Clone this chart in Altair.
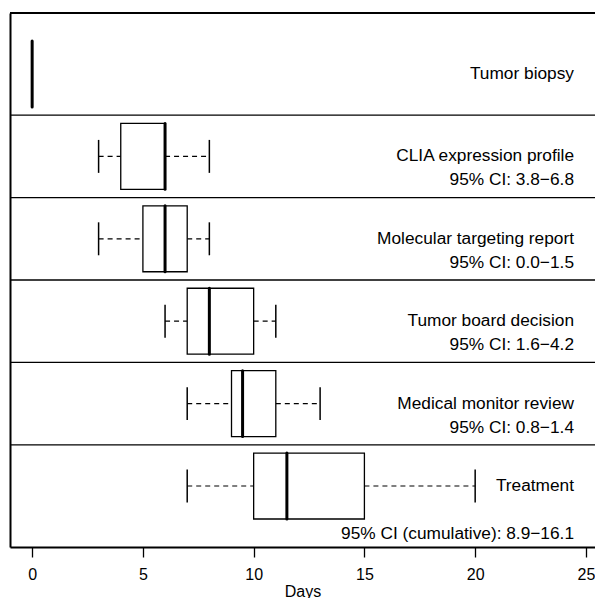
import altair as alt
import pandas as pd

# Data
steps = ["Tumor biopsy", "CLIA expression profile", "Molecular targeting report",
         "Tumor board decision", "Medical monitor review", "Treatment"]
positions = [6, 5, 4, 3, 2, 1]
mins = [0, 3, 3, 6, 7, 7]
q1s = [0, 4, 5, 7, 9, 10]
medians = [0, 6, 6, 8, 9.5, 11.5]
q3s = [0, 6, 7, 10, 11, 15]
maxs = [0, 8, 8, 11, 13, 20]
ci_texts = ["", "95% CI: 3.8\u22126.8", "95% CI: 0.0\u22121.5", "95% CI: 1.6\u22124.2",
            "95% CI: 0.8\u22121.4", "95% CI (cumulative): 8.9\u221216.1"]
separators = [1.5, 2.5, 3.5, 4.5, 5.5]
x_ticks = [0, 5, 10, 15, 20, 25]

df = pd.DataFrame({"step": steps, "pos": positions, "lo": mins, "q1": q1s,
                   "med": medians, "q3": q3s, "hi": maxs, "ci": ci_texts})
seps = pd.DataFrame({"sep": separators})

FONT = "Liberation Sans"
TXT = 17.3
xs = alt.Scale(domain=[-1, 25.41], nice=False, zero=False)
ys = alt.Scale(domain=[0.26, 6.74], nice=False, zero=False)
x_axis = alt.Axis(values=x_ticks, title="Days", grid=False, tickSize=10, tickWidth=1.3,
                  tickColor="black", domainColor="black", domainWidth=2,
                  labelFont=FONT, labelFontSize=16, labelColor="black", labelPadding=9,
                  titleFont=FONT, titleFontSize=16, titleFontWeight="normal",
                  titleColor="black", titlePadding=1)
y_axis = alt.Axis(title=None, labels=False, ticks=False, grid=False,
                  domainColor="black", domainWidth=2)

base = alt.Chart(df)

boxes = base.transform_calculate(
    ylo="datum.pos - 0.4", yhi="datum.pos + 0.4"
).mark_rect(fill="white", stroke="black", strokeWidth=1.3).encode(
    x=alt.X("q1:Q", scale=xs, axis=x_axis), x2="q3:Q",
    y=alt.Y("ylo:Q", scale=ys, axis=y_axis), y2="yhi:Q")

wlow = base.mark_rule(color="black", strokeWidth=1.2, strokeDash=[5, 4]).encode(
    x=alt.X("lo:Q", scale=xs, axis=x_axis), x2="q1:Q",
    y=alt.Y("pos:Q", scale=ys, axis=y_axis))
whigh = base.mark_rule(color="black", strokeWidth=1.2, strokeDash=[5, 4]).encode(
    x=alt.X("q3:Q", scale=xs, axis=x_axis), x2="hi:Q",
    y=alt.Y("pos:Q", scale=ys, axis=y_axis))

caps_base = base.transform_calculate(clo="datum.pos - 0.2", chi="datum.pos + 0.2")
cap_lo = caps_base.mark_rule(color="black", strokeWidth=1.5).encode(
    x=alt.X("lo:Q", scale=xs, axis=x_axis),
    y=alt.Y("clo:Q", scale=ys, axis=y_axis), y2="chi:Q")
cap_hi = caps_base.mark_rule(color="black", strokeWidth=1.5).encode(
    x=alt.X("hi:Q", scale=xs, axis=x_axis),
    y=alt.Y("clo:Q", scale=ys, axis=y_axis), y2="chi:Q")

medl = base.transform_calculate(
    ylo="datum.pos - 0.4", yhi="datum.pos + 0.4"
).mark_rule(color="black", strokeWidth=3, strokeCap="round").encode(
    x=alt.X("med:Q", scale=xs, axis=x_axis),
    y=alt.Y("ylo:Q", scale=ys, axis=y_axis), y2="yhi:Q")

sep_rules = alt.Chart(seps).mark_rule(color="black", strokeWidth=1.3).encode(
    y=alt.Y("sep:Q", scale=ys, axis=y_axis))

top_rule = alt.Chart(seps).mark_rule(color="black", strokeWidth=2).encode(
    y=alt.value(0), x=alt.value(0), x2=alt.value(585))

names = base.mark_text(align="right", baseline="middle", font=FONT, fontSize=TXT,
                       color="black", dy=0).encode(
    x=alt.value(564), y=alt.Y("pos:Q", scale=ys, axis=y_axis), text="step:N")

cis = base.transform_filter("datum.pos > 1 && datum.ci != ''").mark_text(
    align="right", baseline="middle", font=FONT, fontSize=TXT, color="black", dy=24).encode(
    x=alt.value(564), y=alt.Y("pos:Q", scale=ys, axis=y_axis), text="ci:N")

ci_cum = base.transform_filter("datum.pos == 1").mark_text(
    align="right", baseline="middle", font=FONT, fontSize=TXT, color="black", dy=48).encode(
    x=alt.value(564), y=alt.Y("pos:Q", scale=ys, axis=y_axis), text="ci:N")

chart = alt.layer(sep_rules, top_rule, wlow, whigh, cap_lo, cap_hi, boxes, medl,
                  names, cis, ci_cum).properties(
    width=585, height=534,
    padding={"left": 2, "top": 5, "right": 0, "bottom": 51},
    autosize=alt.AutoSizeParams(type="none"),
).configure_view(stroke=None).configure(background="white")

chart.save("out.html", embed_options={"renderer": "svg", "actions": False})
